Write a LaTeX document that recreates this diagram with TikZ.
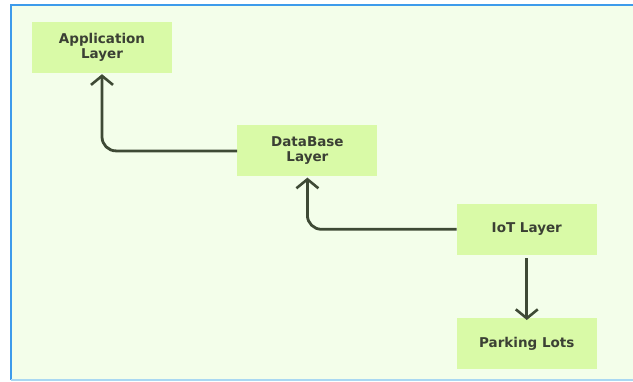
\documentclass[tikz,border=0pt]{standalone}
\usepackage{fontspec}
\setsansfont{DejaVu Sans}
\usepackage{tikz}
\usetikzlibrary{positioning, arrows.meta}

\definecolor{paper}{HTML}{F3FEEA}
\definecolor{boxgreen}{HTML}{D9FAA7}
\definecolor{linedark}{HTML}{3E4A35}
\definecolor{textdark}{HTML}{3B4034}
\definecolor{frameblue}{HTML}{3D9BEB}
\definecolor{framelight}{HTML}{A9D8F2}

\begin{document}
\begin{tikzpicture}[x=1pt, y=-1pt, node distance=52pt,
  layer node/.style={rectangle, fill=boxgreen, text=textdark, align=center,
    minimum width=140pt, minimum height=51pt, inner sep=0pt,
    font=\sffamily\bfseries\fontsize{13.5}{15}\selectfont},
  link/.style={draw=linedark, line width=2.8pt, rounded corners=14pt,
    -{Straight Barb[width=22pt, length=9pt, line width=2.6pt]}}]

\useasboundingbox (0,0) rectangle (633,381);
\fill[paper] (11,5) rectangle (633,380);
\draw[frameblue, line width=2.6pt] (11,380) -- (11,5) -- (633,5);
\draw[framelight, line width=1.2pt] (11,380) -- (633,380);

\node[layer node] (app) at (102,47.5) {Application\\Layer};
\node[layer node] (db) [below right=52pt and 65pt of app] {DataBase\\Layer};
\node[layer node] (iot) [below right=27pt and 79pt of db] {IoT Layer};
\node[layer node] (lots) [below=63pt of iot] {Parking Lots};

\draw[link] (db.west) -| ([yshift=-1pt]app.south);
\draw[link] (iot.west) -| ([yshift=-1pt]db.south);
\draw[link] ([yshift=-3pt]iot.south) -- ([yshift=-2pt]lots.north);

\end{tikzpicture}
\end{document}
